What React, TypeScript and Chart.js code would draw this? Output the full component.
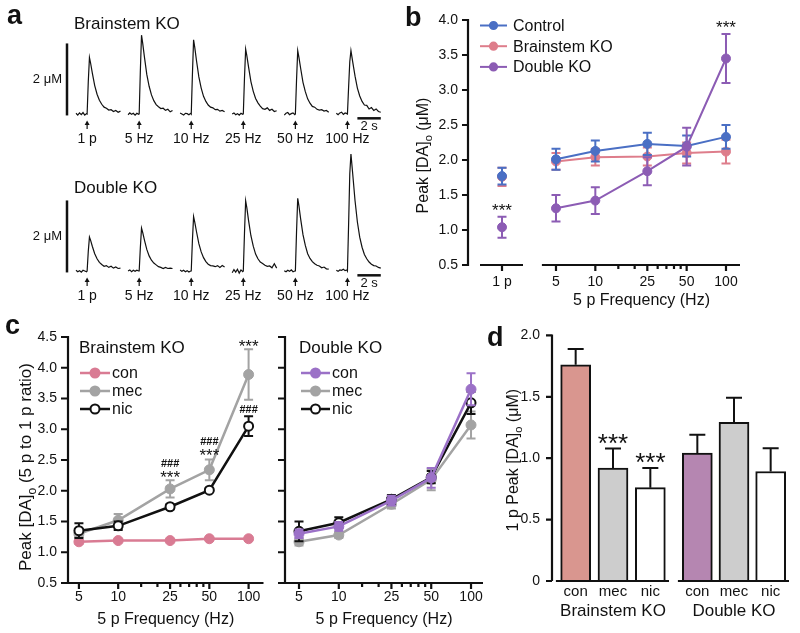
import React, { useEffect, useRef } from "react";
import { Chart, registerables } from "chart.js";

Chart.register(...registerables);

const FONT = "'Liberation Sans', Arial, Helvetica, sans-serif";
Chart.defaults.font.family = FONT;
Chart.defaults.color = "#111111";

const INK = "#111111";
const BLUE = "#4a6fc4";
const PINK = "#de7d8b";
const PURPLE = "#8c5cb4";
const GRAY = "#a3a3a3";
const PINK_C = "#d97b93";
const PURPLE_C = "#9b71c7";
const BAR_PINK = "#d9968f";
const BAR_GRAY = "#cdcdcd";
const BAR_PURPLE = "#b586b1";
const WHITE = "#ffffff";

// ---------------- Panel a: example traces (µM above baseline) ----------------
const stimLabels = ["1 p", "5 Hz", "10 Hz", "25 Hz", "50 Hz", "100 Hz"];
const traceTime = [0, 0.15, 0.3, 0.45, 0.6, 0.75, 0.9, 0.95, 1.05, 1.15, 1.25, 1.4, 1.6, 1.8, 2.0, 2.2, 2.4, 2.6, 2.8, 3.0, 3.2, 3.4, 3.6, 3.8];
const stimTime = 0.95;
const brainstemTraces = [
  [0.02, -0.03, 0.03, -0.02, 0.04, -0.03, 0.01, 0, 0.9, 1.57, 1.41, 1.13, 0.79, 0.55, 0.38, 0.27, 0.19, 0.16, 0.11, 0.12, 0.07, 0.1, 0.05, 0.08],
  [-0.02, 0.03, -0.01, 0.02, -0.03, 0.02, -0.01, 0, 1.2, 2.19, 1.97, 1.58, 1.1, 0.77, 0.53, 0.37, 0.26, 0.2, 0.15, 0.16, 0.1, 0.13, 0.06, 0.1],
  [0.03, 0.0, -0.03, 0.02, 0.01, -0.02, 0.02, 0, 1.1, 2.06, 1.85, 1.48, 1.03, 0.72, 0.49, 0.35, 0.25, 0.19, 0.17, 0.12, 0.13, 0.08, 0.1, 0.06],
  [0.0, 0.03, -0.02, 0.01, -0.03, 0.02, -0.01, 0, 1.0, 1.8, 1.62, 1.3, 0.9, 0.63, 0.43, 0.31, 0.22, 0.15, 0.13, 0.17, 0.1, 0.13, 0.07, 0.09],
  [-0.03, 0.02, 0.04, -0.02, 0.01, 0.03, -0.02, 0, 0.95, 1.76, 1.58, 1.27, 0.88, 0.62, 0.42, 0.3, 0.21, 0.19, 0.13, 0.11, 0.12, 0.08, 0.1, 0.05],
  [0.02, -0.02, 0.03, 0.05, -0.01, 0.03, 0.01, 0, 0.75, 1.45, 1.76, 1.45, 1.05, 0.72, 0.5, 0.35, 0.25, 0.24, 0.14, 0.18, 0.1, 0.14, 0.07, 0.05],
];
const doubleKOTraces = [
  [0.02, -0.02, 0.01, -0.03, 0.02, 0.0, -0.02, 0, 0.55, 0.94, 0.85, 0.68, 0.48, 0.34, 0.24, 0.18, 0.13, 0.15, 0.1, 0.13, 0.08, 0.11, 0.07, 0.08],
  [0.0, 0.03, -0.02, 0.02, -0.01, 0.02, 0.0, 0, 0.65, 1.19, 1.07, 0.86, 0.6, 0.42, 0.3, 0.22, 0.17, 0.12, 0.1, 0.07, 0.1, 0.07, 0.08, 0.07],
  [0.03, -0.01, 0.02, -0.02, 0.01, -0.03, 0.0, 0, 0.85, 1.51, 1.36, 1.09, 0.76, 0.53, 0.37, 0.26, 0.19, 0.15, 0.14, 0.12, 0.15, 0.1, 0.15, 0.11],
  [-0.05, 0.04, -0.03, 0.05, -0.06, 0.03, -0.02, 0, 1.05, 1.95, 1.76, 1.4, 0.98, 0.69, 0.47, 0.34, 0.25, 0.21, 0.16, 0.13, 0.14, 0.09, 0.2, 0.08],
  [0.01, -0.02, 0.02, -0.01, 0.03, -0.02, 0.0, 0, 1.1, 2.02, 1.82, 1.45, 1.01, 0.71, 0.48, 0.35, 0.26, 0.2, 0.16, 0.14, 0.09, 0.11, 0.06, 0.05],
  [0.02, -0.01, 0.03, 0.02, 0.05, 0.01, 0.03, 0, 1.3, 2.7, 3.25, 2.7, 1.95, 1.36, 0.94, 0.66, 0.46, 0.34, 0.25, 0.19, 0.15, 0.14, 0.1, 0.08],
];
const scaleBarMicroM = 2;
const scaleBarSeconds = 2;

// ---------------- Panel b ----------------
const onePulseCategory = ["1 p"];
const freqs = [5, 10, 25, 50, 100];
const freqTicks = [5, 10, 25, 50, 100];
const freqMinorTicks = [15, 20, 30, 35, 40, 45];
const controlOnePulse = [1.77];
const controlOnePulseErr = [0.12];
const brainstemOnePulse = [1.76];
const brainstemOnePulseErr = [0.13];
const doubleOnePulse = [1.04];
const doubleOnePulseErr = [0.15];
const controlFreq = [2.01, 2.13, 2.23, 2.2, 2.33];
const controlFreqErr = [0.15, 0.15, 0.16, 0.15, 0.17];
const brainstemFreq = [1.98, 2.04, 2.05, 2.1, 2.12];
const brainstemFreqErr = [0.12, 0.12, 0.13, 0.15, 0.17];
const doubleFreq = [1.31, 1.42, 1.84, 2.19, 3.45];
const doubleFreqErr = [0.19, 0.19, 0.2, 0.27, 0.35];

// ---------------- Panel c (5 p to 1 p ratio) ----------------
const bkCon = [1.17, 1.19, 1.19, 1.22, 1.22];
const bkConErr = [0.03, 0.02, 0.02, 0.02, 0.02];
const bkMec = [1.3, 1.52, 2.03, 2.34, 3.89];
const bkMecErr = [0.05, 0.1, 0.14, 0.17, 0.41];
const bkNic = [1.35, 1.43, 1.74, 2.01, 3.05];
const bkNicErr = [0.12, 0.07, 0.04, 0.03, 0.16];
const dkCon = [1.3, 1.42, 1.84, 2.21, 3.65];
const dkConErr = [0.07, 0.07, 0.08, 0.16, 0.26];
const dkMec = [1.17, 1.28, 1.78, 2.18, 3.07];
const dkMecErr = [0.06, 0.05, 0.07, 0.17, 0.22];
const dkNic = [1.34, 1.48, 1.86, 2.22, 3.43];
const dkNicErr = [0.16, 0.09, 0.07, 0.1, 0.18];

// ---------------- Panel d (1 p peak) ----------------
const drugLabels = ["con", "mec", "nic"];
const bkOnePulse = [1.76, 0.92, 0.76];
const bkOnePulseErr = [0.13, 0.16, 0.16];
const dkOnePulse = [1.04, 1.29, 0.89];
const dkOnePulseErr = [0.15, 0.2, 0.19];

// ---------------- helpers ----------------
const AXIS_W = 2.2;

function drawErrors(chart: any, ds: any, meta: any) {
  const ys = chart.scales.y;
  const ctx = chart.ctx;
  ctx.save();
  ctx.strokeStyle = ds.errorColor || ds.borderColor;
  ctx.lineWidth = ds.errorWidth || 2;
  const cap = ds.errorCap || 9;
  meta.data.forEach((el: any, i: number) => {
    const raw = ds.data[i];
    const v = typeof raw === "number" ? raw : raw.y;
    const e = ds.errors[i];
    if (!e) return;
    const yt = ys.getPixelForValue(v + e);
    const yb = ds.errorsOnTop ? ys.getPixelForValue(v) : ys.getPixelForValue(v - e);
    ctx.beginPath();
    ctx.moveTo(el.x, yb);
    ctx.lineTo(el.x, yt);
    ctx.moveTo(el.x - cap / 2, yt);
    ctx.lineTo(el.x + cap / 2, yt);
    if (!ds.errorsOnTop) {
      ctx.moveTo(el.x - cap / 2, yb);
      ctx.lineTo(el.x + cap / 2, yb);
    }
    ctx.stroke();
  });
  ctx.restore();
}

function drawRich(ctx: any, parts: [string, boolean][], size: number) {
  const sub = Math.round(size * 0.7);
  const widths = parts.map(([t, s]) => {
    ctx.font = `${s ? sub : size}px ${FONT}`;
    return ctx.measureText(t).width;
  });
  const total = widths.reduce((a, b) => a + b, 0);
  let x = -total / 2;
  const base = size * 0.35;
  parts.forEach(([t, s], i) => {
    ctx.font = `${s ? sub : size}px ${FONT}`;
    ctx.fillText(t, x, s ? base + size * 0.28 : base);
    x += widths[i];
  });
}

function figPlugin(cfg: any) {
  return {
    id: "fig",
    beforeDatasetDraw(chart: any, args: any) {
      const ds = chart.data.datasets[args.index];
      if (ds.errors && !ds.errorsOnTop) drawErrors(chart, ds, args.meta);
    },
    afterDatasetDraw(chart: any, args: any) {
      const ds = chart.data.datasets[args.index];
      if (ds.errors && ds.errorsOnTop) drawErrors(chart, ds, args.meta);
    },
    afterDraw(chart: any) {
      const { ctx, chartArea: ca, scales } = chart;
      const xs = scales.x;
      const ys = scales.y;
      ctx.save();
      ctx.strokeStyle = INK;
      ctx.fillStyle = INK;
      ctx.lineWidth = AXIS_W;
      if (cfg.yAxis) {
        const a = cfg.yAxis;
        const x = ca.left - a.gap;
        const yTop = ys.getPixelForValue(ys.max);
        const yBot = ys.getPixelForValue(ys.min);
        ctx.beginPath();
        ctx.moveTo(x, yBot + (a.gap ? 0 : AXIS_W / 2));
        ctx.lineTo(x, yTop - 1);
        a.ticks.forEach((v: number) => {
          const y = ys.getPixelForValue(v);
          ctx.moveTo(x - a.len, y);
          ctx.lineTo(x, y);
        });
        ctx.stroke();
      }
      if (cfg.xAxis) {
        const a = cfg.xAxis;
        const y = ca.bottom;
        ctx.beginPath();
        ctx.moveTo(ca.left + a.insetL - (a.insetL ? 0 : AXIS_W / 2), y);
        ctx.lineTo(ca.right - a.insetR, y);
        (a.ticks || []).forEach((v: number) => {
          const x = xs.getPixelForValue(v);
          ctx.moveTo(x, y);
          ctx.lineTo(x, y + a.len);
        });
        (a.minor || []).forEach((v: number) => {
          const x = xs.getPixelForValue(v);
          ctx.moveTo(x, y);
          ctx.lineTo(x, y + a.minorLen);
        });
        ctx.stroke();
      }
      if (cfg.yTitle) {
        const t = cfg.yTitle;
        ctx.save();
        ctx.translate(ca.left + t.dx, (ca.top + ca.bottom) / 2 + t.dy);
        ctx.rotate(-Math.PI / 2);
        ctx.textAlign = "left";
        ctx.textBaseline = "alphabetic";
        drawRich(ctx, t.parts, t.size);
        ctx.restore();
      }
      if (cfg.legend) {
        const L = cfg.legend;
        L.items.forEach((it: any, k: number) => {
          const y = L.y + k * L.dy;
          ctx.save();
          ctx.strokeStyle = it.color;
          ctx.lineWidth = L.lw;
          ctx.beginPath();
          ctx.moveTo(L.x, y);
          ctx.lineTo(L.x + L.len, y);
          ctx.stroke();
          ctx.beginPath();
          ctx.arc(L.x + L.len / 2, y, L.r, 0, Math.PI * 2);
          ctx.fillStyle = it.fill;
          ctx.fill();
          ctx.lineWidth = 2;
          ctx.stroke();
          ctx.fillStyle = INK;
          ctx.font = `${L.size}px ${FONT}`;
          ctx.textAlign = "left";
          ctx.textBaseline = "middle";
          ctx.fillText(it.label, L.x + L.len + L.gap, y + 1);
          ctx.restore();
        });
      }
      (cfg.annotations || []).forEach((an: any) => {
        const ds = chart.data.datasets[an.ds];
        const el = chart.getDatasetMeta(an.ds).data[an.i];
        const raw = ds.data[an.i];
        const v = (typeof raw === "number" ? raw : raw.y) + (ds.errors ? ds.errors[an.i] : 0);
        ctx.font = an.font;
        ctx.textAlign = "center";
        ctx.textBaseline = "middle";
        ctx.fillText(an.text, el.x, ys.getPixelForValue(v) + an.dy);
      });
      ctx.restore();
    },
  };
}

function baseOptions(padding: any) {
  return {
    responsive: false,
    animation: false,
    devicePixelRatio: 1,
    events: [],
    layout: { padding },
    plugins: { legend: { display: false }, tooltip: { enabled: false } },
  };
}

function linY(min: number, max: number, step: number, width: number, pad: number, show: boolean, zeroLabel = false) {
  return {
    type: "linear",
    min,
    max,
    display: show,
    grid: { display: false, drawTicks: false },
    border: { display: false },
    ticks: {
      stepSize: step,
      padding: pad,
      color: INK,
      font: { size: 14, family: FONT },
      callback: (v: number) => (zeroLabel && v === 0 ? "0" : Number(v).toFixed(1)),
    },
    afterFit: (s: any) => {
      if (show) s.width = width;
    },
  };
}

function freqX(min: number, max: number, height: number, pad: number, titlePad: number) {
  return {
    type: "logarithmic",
    min,
    max,
    grid: { display: false, drawTicks: false },
    border: { display: false },
    ticks: {
      padding: pad,
      color: INK,
      font: { size: 14, family: FONT },
      autoSkip: false,
      maxRotation: 0,
      minRotation: 0,
      callback: (v: number) => String(v),
    },
    afterBuildTicks: (s: any) => {
      s.ticks = freqTicks.map((v) => ({ value: v }));
    },
    afterFit: (s: any) => {
      s.height = height;
    },
    title: {
      display: true,
      text: "5 p Frequency (Hz)",
      color: INK,
      font: { size: 16, family: FONT },
      padding: { top: 0, bottom: titlePad },
    },
  };
}

function pointDs(label: string, xs: any, ys: number[], errs: number[], color: string, fill: string, r: number, lw: number, showLine = true) {
  return {
    label,
    data: xs === null ? ys : xs.map((x: number, i: number) => ({ x, y: ys[i] })),
    errors: errs,
    borderColor: color,
    backgroundColor: color,
    pointBackgroundColor: fill,
    pointBorderColor: color,
    pointBorderWidth: fill === WHITE ? 2 : 1,
    pointRadius: r,
    borderWidth: lw,
    showLine,
    tension: 0,
    errorCap: 9,
    errorWidth: 2,
  };
}

// ---------------- panel a ----------------
const PX_PER_S = 11.7;
const PX_PER_UM = 36;
const TRACE_STEP = 4.45;
const TRACE_X0 = 76;
const BAR_X = 67;

function traceConfig(traces: number[][], canvasW: number, canvasH: number, baselineY: number) {
  const xMin = -TRACE_X0 / PX_PER_S;
  const xMax = xMin + canvasW / PX_PER_S;
  const yMax = baselineY / PX_PER_UM;
  const yMin = yMax - canvasH / PX_PER_UM;
  const lastEnd = (traces.length - 1) * TRACE_STEP + traceTime[traceTime.length - 1];
  const barX = (BAR_X - TRACE_X0) / PX_PER_S;
  const datasets: any[] = traces.map((vals, k) => ({
    data: traceTime.map((t, j) => ({ x: k * TRACE_STEP + t, y: vals[j] })),
    borderColor: INK,
    borderWidth: 1.2,
    pointRadius: 0,
    tension: 0,
  }));
  datasets.push({
    data: [
      { x: barX, y: -0.04 },
      { x: barX, y: -0.04 + scaleBarMicroM },
    ],
    borderColor: INK,
    borderWidth: 2.5,
    pointRadius: 0,
  });
  datasets.push({
    data: [
      { x: lastEnd - scaleBarSeconds, y: -0.12 },
      { x: lastEnd, y: -0.12 },
    ],
    borderColor: INK,
    borderWidth: 2.5,
    pointRadius: 0,
  });
  const marks = {
    id: "traceMarks",
    afterDraw(chart: any) {
      const { ctx } = chart;
      const x = chart.scales.x;
      const y = chart.scales.y;
      const y0 = y.getPixelForValue(0);
      ctx.save();
      ctx.fillStyle = INK;
      ctx.strokeStyle = INK;
      ctx.lineWidth = 1.2;
      stimLabels.forEach((lab, k) => {
        const px = x.getPixelForValue(k * TRACE_STEP + stimTime);
        ctx.beginPath();
        ctx.moveTo(px, y0 + 15);
        ctx.lineTo(px, y0 + 10);
        ctx.stroke();
        ctx.beginPath();
        ctx.moveTo(px, y0 + 6.5);
        ctx.lineTo(px - 2.5, y0 + 11);
        ctx.lineTo(px + 2.5, y0 + 11);
        ctx.closePath();
        ctx.fill();
        ctx.font = `14px ${FONT}`;
        ctx.textAlign = "center";
        ctx.textBaseline = "middle";
        ctx.fillText(lab, px, y0 + 25);
      });
      const bx = x.getPixelForValue(lastEnd - scaleBarSeconds / 2);
      const by = y.getPixelForValue(-0.12);
      ctx.font = `13px ${FONT}`;
      ctx.textAlign = "center";
      ctx.textBaseline = "middle";
      ctx.fillText(`${scaleBarSeconds} s`, bx, by + 8);
      ctx.restore();
    },
  };
  return {
    type: "line",
    data: { datasets },
    options: {
      ...baseOptions({ left: 0, right: 0, top: 0, bottom: 0 }),
      scales: {
        x: { type: "linear", min: xMin, max: xMax, display: false },
        y: { type: "linear", min: yMin, max: yMax, display: false },
      },
    },
    plugins: [marks],
  };
}

// ---------------- panel b ----------------
const yTicksB = [0.5, 1, 1.5, 2, 2.5, 3, 3.5, 4];
const yTicksC = [0.5, 1, 1.5, 2, 2.5, 3, 3.5, 4, 4.5];
const yTicksD = [0, 0.5, 1, 1.5, 2];

function bOnePulseConfig() {
  return {
    type: "line",
    data: {
      labels: onePulseCategory,
      datasets: [
        pointDs("Double KO", null, doubleOnePulse, doubleOnePulseErr, PURPLE, PURPLE, 4.5, 2, false),
        pointDs("Control", null, controlOnePulse, controlOnePulseErr, BLUE, BLUE, 4.5, 2, false),
        pointDs("Brainstem KO", null, brainstemOnePulse, brainstemOnePulseErr, PINK, PINK, 4.5, 2, false),
      ],
    },
    options: {
      ...baseOptions({ left: 0, right: 264, top: 20, bottom: 0 }),
      scales: {
        x: {
          type: "category",
          offset: true,
          grid: { display: false, drawTicks: false },
          border: { display: false },
          ticks: { padding: 9, color: INK, font: { size: 14, family: FONT }, maxRotation: 0 },
          afterFit: (s: any) => {
            s.height = 45;
          },
        },
        y: linY(0.5, 4, 0.5, 68, 10, true),
      },
    },
    plugins: [
      figPlugin({
        yAxis: { gap: 0, ticks: yTicksB, len: 6 },
        xAxis: { insetL: 12, insetR: 13, ticks: [0], len: 6 },
        yTitle: { parts: [["Peak [DA]", false], ["o", true], [" (\u03bcM)", false]], size: 16, dx: -46, dy: 13 },
        annotations: [{ ds: 0, i: 0, dy: -5, text: "***", font: `17px ${FONT}` }],
      }),
    ],
  };
}

function bFreqConfig() {
  const dsets = [
    pointDs("Double KO", freqs, doubleFreq, doubleFreqErr, PURPLE, PURPLE, 4.5, 2),
    pointDs("Control", freqs, controlFreq, controlFreqErr, BLUE, BLUE, 4.5, 2),
    pointDs("Brainstem KO", freqs, brainstemFreq, brainstemFreqErr, PINK, PINK, 4.5, 2),
  ];
  return {
    type: "line",
    data: { datasets: dsets },
    options: {
      ...baseOptions({ left: 143, right: 60, top: 20, bottom: 0 }),
      scales: {
        x: freqX(3.977, 128, 45, 9, 0),
        y: linY(0.5, 4, 0.5, 0, 0, false),
      },
    },
    plugins: [
      figPlugin({
        xAxis: { insetL: 0, insetR: 0, ticks: freqTicks, minor: freqMinorTicks, len: 6, minorLen: 4 },
        legend: {
          x: 80, y: 25.5, dy: 20.7, len: 27, gap: 6, r: 3.6, lw: 2, size: 16,
          items: [
            { label: "Control", color: BLUE, fill: BLUE },
            { label: "Brainstem KO", color: PINK, fill: PINK },
            { label: "Double KO", color: PURPLE, fill: PURPLE },
          ],
        },
        annotations: [{ ds: 0, i: 4, dy: -6, text: "***", font: `17px ${FONT}` }],
      }),
    ],
  };
}

// ---------------- panel c ----------------
function cConfig(which: string) {
  const isBK = which === "bk";
  const conColor = isBK ? PINK_C : PURPLE_C;
  const con = isBK ? bkCon : dkCon;
  const conErr = isBK ? bkConErr : dkConErr;
  const mec = isBK ? bkMec : dkMec;
  const mecErr = isBK ? bkMecErr : dkMecErr;
  const nic = isBK ? bkNic : dkNic;
  const nicErr = isBK ? bkNicErr : dkNicErr;
  const dsets = isBK
    ? [
        pointDs("nic", freqs, nic, nicErr, INK, WHITE, 4.5, 2.5),
        pointDs("mec", freqs, mec, mecErr, GRAY, GRAY, 5, 2.5),
        pointDs("con", freqs, con, conErr, conColor, conColor, 5, 2.5),
      ]
    : [
        pointDs("con", freqs, con, conErr, conColor, conColor, 5, 2.5),
        pointDs("nic", freqs, nic, nicErr, INK, WHITE, 4.5, 2.5),
        pointDs("mec", freqs, mec, mecErr, GRAY, GRAY, 5, 2.5),
      ];
  const legendItems = [
    { label: "con", color: conColor, fill: conColor },
    { label: "mec", color: GRAY, fill: GRAY },
    { label: "nic", color: INK, fill: WHITE },
  ];
  const fig: any = {
    yAxis: { gap: 0, ticks: yTicksC, len: 7 },
    xAxis: { insetL: 0, insetR: 0, ticks: freqTicks, minor: freqMinorTicks, len: 6, minorLen: 4 },
    legend: isBK
      ? { x: 80, y: 63, dy: 18, len: 30, gap: 2, r: 4.5, lw: 2.5, size: 16, items: legendItems }
      : { x: 39, y: 63, dy: 18, len: 29, gap: 2, r: 4.5, lw: 2.5, size: 16, items: legendItems },
  };
  if (isBK) {
    fig.yTitle = { parts: [["Peak [DA]", false], ["o", true], [" (5 p to 1 p ratio)", false]], size: 17, dx: -43, dy: 7 };
    fig.annotations = [
      { ds: 1, i: 2, dy: -2, text: "***", font: `17px ${FONT}` },
      { ds: 1, i: 2, dy: -16, text: "###", font: `bold 11px ${FONT}` },
      { ds: 1, i: 3, dy: -3, text: "***", font: `17px ${FONT}` },
      { ds: 1, i: 3, dy: -17, text: "###", font: `bold 11px ${FONT}` },
      { ds: 1, i: 4, dy: -2, text: "***", font: `17px ${FONT}` },
      { ds: 0, i: 4, dy: -6, text: "###", font: `bold 11px ${FONT}` },
    ];
  }
  return {
    type: "line",
    data: { datasets: dsets },
    options: {
      ...baseOptions(isBK ? { left: 0, right: 5, top: 27, bottom: 0 } : { left: 23, right: 37, top: 27, bottom: 0 }),
      scales: {
        x: isBK ? freqX(4.123, 130.1, 50, 6, 4) : freqX(3.918, 123.2, 50, 6, 4),
        y: linY(0.5, 4.5, 0.5, 68, 11, isBK),
      },
    },
    plugins: [figPlugin(fig)],
  };
}

// ---------------- panel d ----------------
function dConfig(which: string) {
  const isBK = which === "bk";
  const ds = {
    label: isBK ? "Brainstem KO" : "Double KO",
    data: isBK ? bkOnePulse : dkOnePulse,
    errors: isBK ? bkOnePulseErr : dkOnePulseErr,
    errorsOnTop: true,
    errorColor: INK,
    errorWidth: 2,
    errorCap: 16,
    backgroundColor: [isBK ? BAR_PINK : BAR_PURPLE, BAR_GRAY, WHITE],
    borderColor: INK,
    borderWidth: 2,
    borderSkipped: "start",
    barThickness: 30,
  };
  const fig: any = {
    xAxis: { insetL: 0, insetR: 0, ticks: [], len: 0 },
  };
  if (isBK) {
    fig.yAxis = { gap: 5, ticks: yTicksD, len: 6 };
    fig.yTitle = { parts: [["1 p Peak [DA]", false], ["o", true], [" (\u03bcM)", false]], size: 16, dx: -45, dy: 2 };
    fig.annotations = [
      { ds: 0, i: 1, dy: -4, text: "***", font: `26px ${FONT}` },
      { ds: 0, i: 2, dy: -4, text: "***", font: `26px ${FONT}` },
    ];
  }
  return {
    type: "bar",
    data: { labels: drugLabels, datasets: [ds] },
    options: {
      ...baseOptions(isBK ? { left: 0, right: 4, top: 25, bottom: 0 } : { left: 6, right: 11, top: 25, bottom: 0 }),
      scales: {
        x: {
          type: "category",
          grid: { display: false, drawTicks: false },
          border: { display: false },
          ticks: { padding: 2, color: INK, font: { size: 15, family: FONT }, maxRotation: 0 },
          afterFit: (s: any) => {
            s.height = 52;
          },
          title: {
            display: true,
            text: isBK ? "Brainstem KO" : "Double KO",
            color: INK,
            font: { size: 17, family: FONT },
            padding: { top: 0, bottom: 11 },
          },
        },
        y: linY(0, 2, 0.5, 67, 17, isBK, true),
      },
    },
    plugins: [figPlugin(fig)],
  };
}

// ---------------- components ----------------
function ChartBox({ make, left, top, width, height }: any) {
  const ref = useRef<HTMLCanvasElement | null>(null);
  useEffect(() => {
    if (!ref.current) return;
    const chart = new Chart(ref.current, make());
    return () => chart.destroy();
  }, []);
  return <canvas ref={ref} width={width} height={height} style={{ position: "absolute", left, top, width, height }} />;
}

function Label({ text, left, top, size, bold, width, align }: any) {
  return (
    <div
      style={{
        position: "absolute",
        left,
        top,
        width,
        textAlign: align || "left",
        fontSize: size,
        lineHeight: `${size}px`,
        fontFamily: FONT,
        fontWeight: bold ? 700 : 400,
        color: INK,
        whiteSpace: "nowrap",
      }}
    >
      {text}
    </div>
  );
}

export default function App() {
  return (
    <div style={{ position: "absolute", left: 0, top: 0, width: 800, height: 633, background: "#fff", overflow: "hidden" }}>
      <ChartBox make={() => traceConfig(brainstemTraces, 400, 160, 114)} left={0} top={0} width={400} height={160} />
      <ChartBox make={() => traceConfig(doubleKOTraces, 400, 180, 141)} left={0} top={130} width={400} height={180} />
      <ChartBox make={bOnePulseConfig} left={400} top={0} width={400} height={310} />
      <ChartBox make={bFreqConfig} left={400} top={0} width={400} height={310} />
      <ChartBox make={() => cConfig("bk")} left={0} top={310} width={270} height={323} />
      <ChartBox make={() => cConfig("dk")} left={262} top={310} width={258} height={323} />
      <ChartBox make={() => dConfig("bk")} left={490} top={310} width={183} height={323} />
      <ChartBox make={() => dConfig("dk")} left={673} top={310} width={127} height={323} />

      <Label text="a" left={7} top={2} size={27} bold />
      <Label text="b" left={405} top={4} size={27} bold />
      <Label text="c" left={5} top={312} size={27} bold />
      <Label text="d" left={487} top={324} size={27} bold />

      <Label text="Brainstem KO" left={74} top={15} size={17} />
      <Label text="Double KO" left={74} top={179} size={17} />
      <Label text={"2 \u03bcM"} left={0} width={62} align="right" top={72} size={13} />
      <Label text={"2 \u03bcM"} left={0} width={62} align="right" top={229} size={13} />

      <Label text="Brainstem KO" left={79} top={339} size={17} />
      <Label text="Double KO" left={299} top={339} size={17} />
    </div>
  );
}
